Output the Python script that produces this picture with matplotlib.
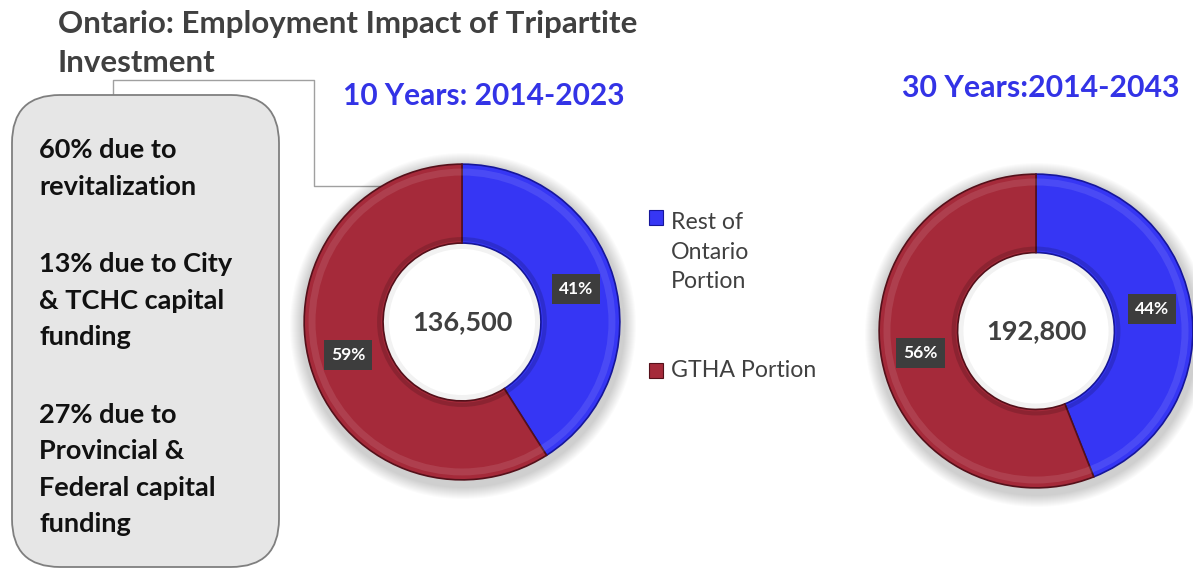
import matplotlib
matplotlib.use('Agg')
import matplotlib.pyplot as plt
from matplotlib.patches import FancyBboxPatch, Circle, Rectangle

W, H = 1193, 569

# data
series_names = ['Rest of\nOntario\nPortion', 'GTHA Portion']
share_10yr = [41, 59]
share_30yr = [44, 56]
total_10yr = '136,500'
total_30yr = '192,800'
title_10yr = '10 Years: 2014-2023'
title_30yr = '30 Years:2014-2043'
note_lines = [['60% due to', 'revitalization'],
              ['13% due to City', '& TCHC capital', 'funding'],
              ['27% due to', 'Provincial &', 'Federal capital', 'funding']]

colors = ['#3636F4', '#A52A3A']
edges = ['#16169a', '#55101a']
font = 'Lato'
grey = '#404040'

fig = plt.figure(figsize=(W / 100, H / 100), dpi=100)
fig.patch.set_facecolor('white')

# background axes in pixel coords
bg = fig.add_axes([0, 0, 1, 1])
bg.set_xlim(0, W)
bg.set_ylim(H, 0)
bg.axis('off')

bg.text(58, 33, 'Ontario: Employment Impact of Tripartite', fontsize=22.5,
        fontweight='bold', color=grey, family=font, va='baseline')
bg.text(58, 72, 'Investment', fontsize=22.5, fontweight='bold', color=grey,
        family=font, va='baseline')

# connector line from title to donut
bg.plot([113, 113, 314, 314, 380], [95, 80, 80, 186, 186],
        color='#a0a0a0', lw=1, zorder=1)

# rounded note box
box = FancyBboxPatch((12, 95), 267, 472, boxstyle='round,pad=0,rounding_size=48',
                     facecolor='#e6e6e6', edgecolor='#7f7f7f', lw=1.3, zorder=2)
bg.add_patch(box)

y = 158
for para in note_lines:
    for line in para:
        bg.text(39, y, line, fontsize=19.5, fontweight='bold', color='#111111',
                family=font, va='baseline', zorder=3)
        y += 36.5
    y += 41

bg.text(343, 105, title_10yr, fontsize=21.5, fontweight='bold', color='#3333E6',
        family=font, va='baseline')
bg.text(902, 97, title_30yr, fontsize=21.8, fontweight='bold', color='#3333E6',
        family=font, va='baseline')

# legend (manual so the square sits on the first line of the label)
leg_sq = [217, 370]
leg_base = [288, 377]
for name, c, e, sy, by in zip(series_names, colors, edges, leg_sq, leg_base):
    bg.add_patch(Rectangle((649, sy - 7.5), 14, 15, facecolor=c, edgecolor=e,
                           lw=0.8, zorder=3))
    bg.text(671, by, name, fontsize=16.7, color=grey, family=font,
            va='baseline', linespacing=1.5)


def donut(cx, cy, r, shares, total):
    # soft shadow
    for k in range(12):
        bg.add_patch(Circle((cx + 1, cy + 4), r + 12 - k, facecolor='#000000',
                            alpha=0.016, lw=0, zorder=1))
    ax = fig.add_axes([(cx - r) / W, 1 - (cy + r) / H, 2 * r / W, 2 * r / H])
    ax.add_patch(Circle((0, 0), 0.5, facecolor='white', edgecolor='none',
                        zorder=0))
    wedges, _, autotexts = ax.pie(
        shares, colors=colors, startangle=90, counterclock=False, radius=1,
        autopct=lambda p: f'{p:.0f}%', pctdistance=0.75,
        wedgeprops=dict(width=0.5, linewidth=1.2),
        textprops=dict(color='white', fontsize=12.5, family=font,
                       fontweight='bold'))
    for w, e in zip(wedges, edges):
        w.set_edgecolor(e)
    for t in autotexts:
        t.set_bbox(dict(boxstyle='square,pad=0.4', facecolor='#3d3d3d',
                        edgecolor='none'))
    # bevel-ish rings
    ax.add_patch(Circle((0, 0), 0.95, facecolor='none', edgecolor='#ffffff',
                        alpha=0.10, lw=5))
    ax.add_patch(Circle((0, 0), 0.525, facecolor='none', edgecolor='#000000',
                        alpha=0.15, lw=3))
    ax.add_patch(Circle((0, 0), 0.48, facecolor='none', edgecolor='#000000',
                        alpha=0.05, lw=4))
    ax.text(0, 0, total, ha='center', va='center', fontsize=19.5,
            fontweight='bold', color=grey, family=font)
    ax.set_xlim(-1.02, 1.02)
    ax.set_ylim(-1.02, 1.02)
    ax.axis('off')
    return ax


donut(462, 322, 161, share_10yr, total_10yr)
donut(1036, 331, 160, share_30yr, total_30yr)

fig.savefig('out.png', dpi=100, facecolor='white')
